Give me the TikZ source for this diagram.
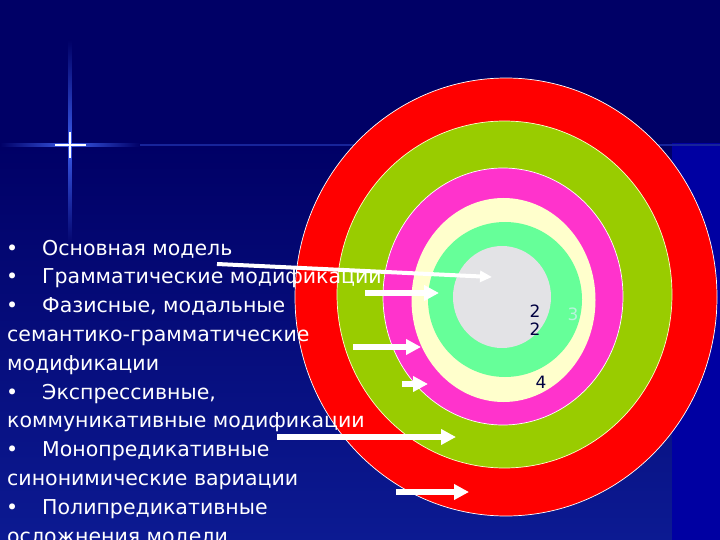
\documentclass[tikz,border=0pt]{standalone}
\usepackage{fontspec}
\setmainfont{DejaVu Sans}
\usetikzlibrary{arrows.meta}
\definecolor{navy}{HTML}{000066}
\definecolor{lownavy}{HTML}{0C1A92}
\definecolor{stripblue}{HTML}{0000A2}
\definecolor{ringred}{HTML}{FF0000}
\definecolor{ringgreen}{HTML}{99CC00}
\definecolor{ringpink}{HTML}{FF33CC}
\definecolor{ringcream}{HTML}{FFFFCC}
\definecolor{ringmint}{HTML}{66FF99}
\definecolor{ringgray}{HTML}{E3E3E6}
\definecolor{numnavy}{HTML}{000040}
\definecolor{numlight}{HTML}{B8F4DC}
\definecolor{glow}{HTML}{3A5AE8}
\tikzset{
  txt/.style={anchor=base west, inner sep=0pt, text=white, font=\fontsize{20.5}{24}\selectfont},
  ringedge/.style={draw=#1, line width=0.7pt},
  warrow/.style={draw=white, line width=6pt, -{Triangle[length=15pt,width=15pt]}},
  thinarrow/.style={draw=white, line width=4pt, -{Triangle[length=12pt,width=11pt]}},
  num/.style={inner sep=0pt, font=\fontsize{17}{19}\selectfont}
}
\begin{document}
\begin{tikzpicture}[x=1pt,y=-1pt]
\useasboundingbox (0,0) rectangle (720,540);
\begin{scope}
\clip (0,0) rectangle (720,540);
% background
\fill[navy] (0,0) rectangle (720,540);
\shade[top color=navy, bottom color=lownavy] (0,146) rectangle (720,540);
\fill[stripblue] (672,143) rectangle (720,540);
% star sparkle
\shade[left color=navy, right color=glow] (0,143.5) rectangle (70,146.5);
\shade[left color=glow, right color=navy] (70,143.5) rectangle (140,146.5);
\fill[glow!40!navy] (140,144.4) rectangle (720,145.6);
\shade[top color=navy, bottom color=glow] (68.5,40) rectangle (71.5,145);
\shade[top color=glow, bottom color=navy] (68.5,145) rectangle (71.5,250);
\fill[white] (69.3,132) rectangle (70.7,158);
\fill[white] (55,144.3) rectangle (86,145.7);
% rings
\filldraw[fill=ringred, ringedge=white] (506,297) ellipse [x radius=211, y radius=219];
\filldraw[fill=ringgreen, ringedge=ringcream] (504.5,294.5) ellipse [x radius=167.5, y radius=173.5];
\filldraw[fill=ringpink, ringedge=white] (503,296.5) ellipse [x radius=120, y radius=128.5];
\fill[ringcream] (503.5,300) ellipse [x radius=92, y radius=102];
\fill[ringmint] (505,299.5) ellipse [x radius=77, y radius=77.5];
\fill[ringgray] (502,297) ellipse [x radius=49, y radius=51];
% numbers
\node[num, text=numnavy] (n2a) at (535,311) {2};
\node[num, text=numnavy] (n2b) at (535,329) {2};
\node[num, text=numlight] (n3) at (573,314) {3};
\node[num, text=numnavy] (n4) at (541,382) {4};
% text
\node[txt] (b1) at (6,255) {•};
\node[txt] (t1) at (42,255) {Основная модель};
\node[txt] (b2) at (6,283.8) {•};
\node[txt] (t2) at (42,283.8) {Грамматические модификации};
\node[txt] (b3) at (6,312.6) {•};
\node[txt] (t3) at (42,312.6) {Фазисные, модальные};
\node[txt] (t4) at (7,341.4) {семантико-грамматические};
\node[txt] (t5) at (7,370.2) {модификации};
\node[txt] (b6) at (6,399) {•};
\node[txt] (t6) at (42,399) {Экспрессивные,};
\node[txt] (t7) at (7,427.8) {коммуникативные модификации};
\node[txt] (b8) at (6,456.6) {•};
\node[txt] (t8) at (42,456.6) {Монопредикативные};
\node[txt] (t9) at (7,485.4) {синонимические вариации};
\node[txt] (b10) at (6,514.2) {•};
\node[txt] (t10) at (42,514.2) {Полипредикативные};
\node[txt] (t11) at (7,543) {осложнения модели};
% arrows
\coordinate (a1s) at (217,264);
\coordinate (a1e) at (492,277);
\coordinate (a2s) at (365,293);
\coordinate (a2e) at (439,293);
\coordinate (a3s) at (353,347);
\coordinate (a3e) at (421,347);
\coordinate (a4s) at (402,384);
\coordinate (a4e) at (428,384);
\coordinate (a5s) at (277,437);
\coordinate (a5e) at (456,437);
\coordinate (a6s) at (396,492);
\coordinate (a6e) at (469,492);
\draw[thinarrow] (a1s) -- (a1e);
\draw[warrow] (a2s) -- (a2e);
\draw[warrow] (a3s) -- (a3e);
\draw[warrow] (a4s) -- (a4e);
\draw[warrow] (a5s) -- (a5e);
\draw[warrow] (a6s) -- (a6e);
\end{scope}
\end{tikzpicture}
\end{document}
